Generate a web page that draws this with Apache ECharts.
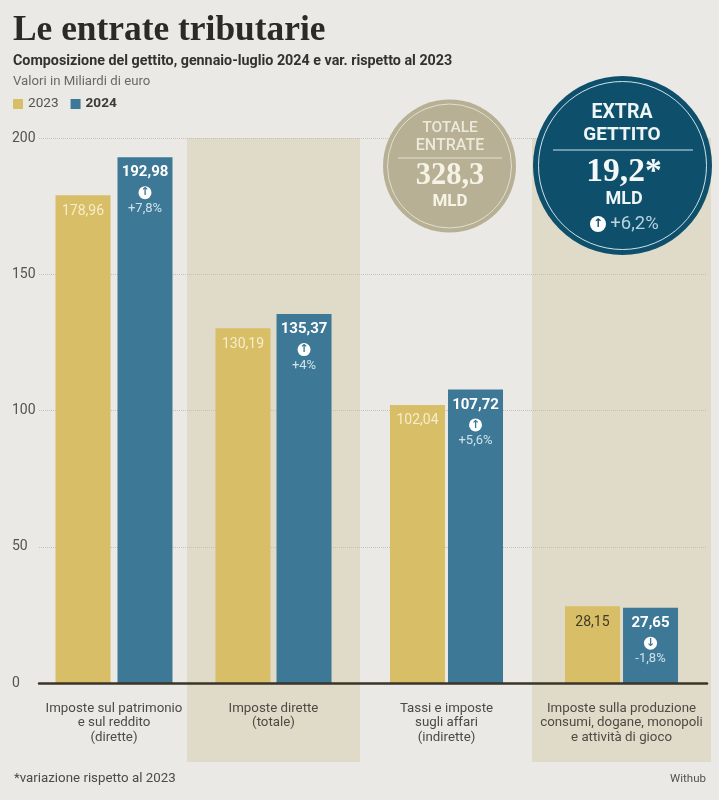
<!DOCTYPE html>
<html><head><meta charset="utf-8">
<style>html,body{margin:0;padding:0;background:#ebe9e5}#c{width:719px;height:800px}</style>
<script src="https://cdn.jsdelivr.net/npm/echarts@6/dist/echarts.min.js"></script>
</head><body><div id="c"></div>
<script>
const categories = ["Imposte sul patrimonio\ne sul reddito\n(dirette)","Imposte dirette\n(totale)","Tassi e imposte\nsugli affari\n(indirette)","Imposte sulla produzione\nconsumi, dogane, monopoli\ne attività di gioco"];
const values2023 = [178.96,130.19,102.04,28.15];
const values2024 = [192.98,135.37,107.72,27.65];
const labels2023 = ["178,96","130,19","102,04","28,15"];
const labels2024 = ["192,98","135,37","107,72","27,65"];
const changes = ["+7,8%","+4%","+5,6%","-1,8%"];
const arrows = ["↑","↑","↑","↓"];

const FONT='Roboto, sans-serif';
const TOP=138, ZERO=683, H=ZERO-TOP, BAND='#e0dac9', GOLD='#d8be66', BLUE='#3d7896';
const col=[{l:50,w:128,g:'12.7%'},{l:209.5,w:128,g:'11%'},{l:382.5,w:128,g:'5.5%'},{l:557.5,w:128,g:'5.5%'}];
const chart=echarts.init(document.getElementById('c'),null,{renderer:'canvas'});
const grids=[
 {left:187,width:173,top:TOP,height:624,show:true,backgroundColor:BAND,borderWidth:0,z:-1},
 {left:532,width:179,top:TOP,height:624,show:true,backgroundColor:BAND,borderWidth:0,z:-1},
 {left:39,right:12,top:TOP,height:H}
];
const xAxes=[{gridIndex:2,type:'category',data:[''],axisTick:{show:false},axisLabel:{show:false},axisLine:{show:true,lineStyle:{color:'#3a3528',width:2.5}},z:5}];
const yAxes=[{gridIndex:2,type:'value',min:0,max:200,interval:50,
 axisLine:{show:false},axisTick:{show:false},
 axisLabel:{color:'#55534c',fontFamily:FONT,fontSize:14,margin:27,align:'left',verticalAlign:'middle',padding:[0,0,4,0]},
 splitLine:{show:true,lineStyle:{color:'#c4c0b5',type:'dotted',width:1}}}];
const series=[];
categories.forEach((c,i)=>{
  grids.push({left:col[i].l,width:col[i].w,top:TOP,height:H});
  const g=grids.length-1;
  xAxes.push({gridIndex:g,type:'category',data:[c],axisLine:{show:false},axisTick:{show:false},
    axisLabel:{color:'#4c4a44',fontFamily:FONT,fontSize:13.3,lineHeight:14.7,margin:18,interval:0}});
  yAxes.push({gridIndex:g,type:'value',min:0,max:200,interval:50,show:false,splitLine:{show:false}});
  const ax=xAxes.length-1, ay=yAxes.length-1;
  series.push({type:'bar',name:'2023',xAxisIndex:ax,yAxisIndex:ay,barWidth:55,barGap:col[i].g,
    itemStyle:{color:GOLD},
    data:[{value:values2023[i],label:{
      show:true,position:'insideTop',distance:9,formatter:labels2023[i],
      color:i===3?'#3e3a2a':'#f6eecb',fontFamily:FONT,fontSize:14}}]});
  series.push({type:'bar',name:'2024',xAxisIndex:ax,yAxisIndex:ay,barWidth:55,barGap:col[i].g,
    itemStyle:{color:BLUE},
    data:[{value:values2024[i],label:{
      show:true,position:'insideTop',distance:2,
      formatter:'{v|'+labels2024[i]+'}\n{a|'+arrows[i]+'}\n{p|'+changes[i]+'}',
      rich:{v:{color:'#fff',fontFamily:FONT,fontWeight:700,fontSize:15,lineHeight:27},
            a:{color:BLUE,backgroundColor:'#fff',borderRadius:6.5,width:13,height:13,lineHeight:13,fontSize:11,fontWeight:700,align:'center',fontFamily:'DejaVu Sans'},
            p:{color:'#cfe2ea',fontFamily:FONT,fontSize:13,lineHeight:19}}}}]});
});
const txt=(x,y,t,o)=>({type:'text',x,y,z:20,style:Object.assign({text:t,fontFamily:FONT,fill:'#fff',textAlign:'center',textVerticalAlign:'middle'},o)});
const circ=(cx,cy,r,o)=>({type:'circle',x:cx,y:cy,shape:{r},z:o.zz||15,style:o});
const graphic=[
 txt(13,31,'Le entrate tributarie',{fontFamily:'Liberation Serif',fontWeight:700,fontSize:35.4,fill:'#2b2a26',textAlign:'left'}),
 txt(13,61,'Composizione del gettito, gennaio-luglio 2024 e var. rispetto al 2023',{fontWeight:700,fontSize:14.3,fill:'#33322e',textAlign:'left'}),
 txt(13,82,'Valori in Miliardi di euro',{fontSize:13.2,fill:'#6b6962',textAlign:'left'}),
 txt(14,779,'*variazione rispetto al 2023',{fontSize:13.3,fill:'#4c4a44',textAlign:'left'}),
 txt(706,779,'Withub',{fontSize:11.5,fill:'#55534c',textAlign:'right'}),
 circ(449.5,166,66.5,{fill:'#b7b095'}),
 circ(449.5,166,62,{fill:'none',stroke:'#e2dfcf',lineWidth:1}),
 txt(450,128,'TOTALE',{fontSize:15.5,fill:'#ece9da',fontWeight:500}),
 txt(450,146,'ENTRATE',{fontSize:16,fill:'#ece9da',fontWeight:500}),
 {type:'line',shape:{x1:398,y1:158,x2:502,y2:158},z:20,style:{stroke:'#e2dfcf',lineWidth:1}},
 txt(450,176,'328,3',{fontFamily:'Liberation Serif',fontWeight:700,fontSize:30.5,fill:'#f5f3e6'}),
 txt(450,202,'MLD',{fontSize:17,fontWeight:700,fill:'#f5f3e6'}),
 circ(622.5,165.5,89.5,{fill:'#0e4f6c'}),
 circ(622.5,165.5,84,{fill:'none',stroke:'#cfe2ea',lineWidth:1}),
 txt(622,113,'EXTRA',{fontSize:19.5,fontWeight:700,fill:'#eef5f7'}),
 txt(622,135,'GETTITO',{fontSize:19,fontWeight:700,fill:'#eef5f7'}),
 {type:'line',shape:{x1:553,y1:150,x2:693,y2:150},z:20,style:{stroke:'#cfe2ea',lineWidth:1}},
 txt(624,172,'19,2*',{fontFamily:'Liberation Serif',fontWeight:700,fontSize:33.5,fill:'#f5f8f8'}),
 txt(624,199,'MLD',{fontSize:18,fontWeight:700,fill:'#eef5f7'}),
 circ(598,224,8,{fill:'#fff',zz:20}),
 {type:'text',x:598,y:224,z:25,style:{text:'↑',fontFamily:'DejaVu Sans',fontSize:12,fontWeight:700,fill:'#0e4f6c',textAlign:'center',textVerticalAlign:'middle'}},
 txt(634.5,224,'+6,2%',{fontSize:18.5,fill:'#b9d3dd'})
];
chart.setOption({animation:false,backgroundColor:'#ebe9e5',
 legend:{left:13,top:97,itemWidth:10,itemHeight:10,itemGap:12,icon:'rect',padding:0,
  textStyle:{fontFamily:FONT,fontSize:13.6,color:'#55534c'},
  data:[{name:'2023'},{name:'2024',textStyle:{fontWeight:700,color:'#3c3b36'}}]},
 grid:grids,xAxis:xAxes,yAxis:yAxes,series,graphic});
</script></body></html>
